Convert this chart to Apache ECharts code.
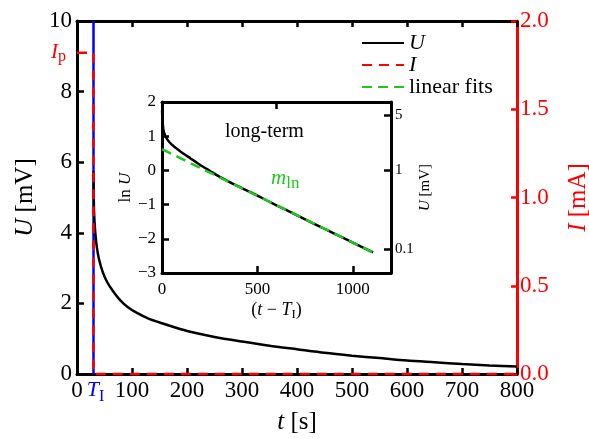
<!DOCTYPE html>
<html><head><meta charset="utf-8">
<script src="https://cdn.jsdelivr.net/npm/echarts@6/dist/echarts.min.js"></script>
<style>html,body{margin:0;padding:0;background:#fff}#c{width:589px;height:438px}</style>
</head><body><div id="c"></div>
<script>
// ---- data ----
const T_I = 30;            // pulse end time [s]
const I_p = 1.82;          // pulse current [mA]
const tMain = [30, 31, 33, 36, 40, 47, 55, 65, 78, 92, 109, 130, 156, 180, 202, 250, 300, 350, 400, 450, 500, 550, 600, 650, 700, 750, 800];
const uMain = [5.75, 4.6, 4.05, 3.6, 3.25, 2.88, 2.6, 2.36, 2.1, 1.9, 1.73, 1.57, 1.43, 1.31, 1.21, 1.05, 0.92, 0.8, 0.70, 0.6, 0.52, 0.45, 0.38, 0.33, 0.28, 0.24, 0.21];
const tCurrent = [0, T_I, T_I, 800];
const iCurrent = [I_p, I_p, 0, 0];
const tInset = [0, 4, 10, 25, 50, 100, 150, 200, 250, 300, 400, 500, 600, 700, 800, 900, 1000, 1106];
const lnUInset = [1.75, 1.35, 1.12, 0.93, 0.76, 0.54, 0.35, 0.16, -0.01, -0.18, -0.47, -0.74, -1.02, -1.29, -1.57, -1.84, -2.11, -2.40];
const tFit = [0, 1106];
const lnUFit = [0.62, -2.40];
const xTicksMain = [0, 100, 200, 300, 400, 500, 600, 700, 800];
const uTicks = [0, 2, 4, 6, 8, 10];
const insetXTicks = [0, 500, 1000];
const insetRightU = [0.1, 1, 5];

const F = '"Liberation Serif", "DejaVu Serif", serif';
const RED = '#ff0000', BLUE = '#0000ff', GREEN = '#1ec81e';
const zip = (a, b) => a.map((v, i) => [v, b[i]]);
const minus = v => String(v).replace('-', '\u2212');
const line = (c) => ({onZero: false, lineStyle: {color: c, width: 3}});

const chart = echarts.init(document.getElementById('c'), null, {renderer: 'canvas'});
chart.setOption({
  animation: false,
  backgroundColor: '#fff',
  textStyle: {fontFamily: F},
  grid: [
    {left: 77, right: 72, top: 21, bottom: 64, outerBoundsMode: 'none', containLabel: false},
    {left: 162, top: 102, width: 229, height: 171, show: true, backgroundColor: '#fff', borderWidth: 0, outerBoundsMode: 'none', containLabel: false}
  ],
  legend: {
    orient: 'vertical', left: 361, top: 32, itemWidth: 42, itemHeight: 12, itemGap: 0, padding: 0,
    data: ['U', 'I', 'linear fits'],
    itemStyle: {opacity: 0},
    textStyle: {fontFamily: F, fontSize: 22, lineHeight: 16, color: '#000',
      rich: {i: {fontFamily: F, fontStyle: 'italic', fontSize: 22, lineHeight: 16}}},
    formatter: n => n === 'linear fits' ? n : '{i|' + n + '}'
  },
  xAxis: [
    {gridIndex: 0, type: 'value', min: 0, max: 800, interval: 100, position: 'bottom',
     name: '{i|t} [s]', nameLocation: 'middle', nameGap: 30,
     nameTextStyle: {fontFamily: F, fontSize: 25, color: '#000', rich: {i: {fontFamily: F, fontStyle: 'italic', fontSize: 25}}},
     axisLine: line('#000'),
     axisTick: {inside: true, length: 6, lineStyle: {width: 2.5, color: '#000'}},
     axisLabel: {customValues: xTicksMain.concat([T_I]), margin: 5, fontFamily: F, fontSize: 23, color: '#000',
       formatter: v => v === T_I ? '{t|T}{s|I}' : String(v),
       rich: {t: {fontFamily: F, fontStyle: 'italic', fontSize: 22, color: BLUE, padding: [0, 0, 4, 4]},
              s: {fontFamily: F, fontSize: 16, color: BLUE, padding: [10, 0, 0, 0]}}},
     splitLine: {show: false}},
    {gridIndex: 0, type: 'value', min: 0, max: 800, interval: 100, position: 'top',
     axisLine: line('#000'),
     axisTick: {inside: true, length: 6, lineStyle: {width: 2.5, color: '#000'}},
     axisLabel: {show: false}, splitLine: {show: false}},
    {gridIndex: 1, type: 'value', min: 0, max: 1200, position: 'bottom',
     name: '({i|t} \u2212 {i|T}{s|I})', nameLocation: 'middle', nameGap: 26,
     nameTextStyle: {fontFamily: F, fontSize: 18, color: '#000',
       rich: {i: {fontFamily: F, fontStyle: 'italic', fontSize: 18}, s: {fontFamily: F, fontSize: 13, padding: [9, 0, 0, 0]}}},
     axisLine: line('#000'),
     axisTick: {inside: true, length: 7, customValues: [500, 1000], lineStyle: {width: 2.5, color: '#000'}},
     axisLabel: {customValues: insetXTicks, margin: 8, fontFamily: F, fontSize: 17, color: '#000', formatter: v => String(v)},
     splitLine: {show: false}},
    {gridIndex: 1, type: 'value', min: 0, max: 1200, position: 'top',
     axisLine: line('#000'),
     axisTick: {inside: true, length: 7, customValues: [600], lineStyle: {width: 2.5, color: '#000'}},
     axisLabel: {show: false}, splitLine: {show: false}}
  ],
  yAxis: [
    {gridIndex: 0, type: 'value', min: 0, max: 10, interval: 2, position: 'left',
     name: '{i|U} [mV]', nameLocation: 'middle', nameGap: 38, nameRotate: 90,
     nameTextStyle: {fontFamily: F, fontSize: 25, color: '#000', rich: {i: {fontFamily: F, fontStyle: 'italic', fontSize: 25}}},
     axisLine: line('#000'),
     axisTick: {inside: true, length: 7, customValues: [2, 4, 6, 8], lineStyle: {width: 2.5, color: '#000'}},
     axisLabel: {customValues: uTicks.concat([I_p * 5]), margin: 5, fontFamily: F, fontSize: 23, color: '#000',
       formatter: v => Math.abs(v - I_p * 5) < 1e-6 ? '{ip|I}{ps|p}' : String(v),
       rich: {ip: {fontFamily: F, fontStyle: 'italic', fontSize: 21, color: RED},
              ps: {fontFamily: F, fontSize: 16, color: RED, padding: [9, 6, 0, 0]}}},
     splitLine: {show: false}},
    {gridIndex: 0, type: 'value', min: 0, max: 2, interval: 0.5, position: 'right',
     name: '{i|I} [mA]', nameLocation: 'middle', nameGap: 49, nameRotate: 90,
     nameTextStyle: {fontFamily: F, fontSize: 25, color: RED, rich: {i: {fontFamily: F, fontStyle: 'italic', fontSize: 25, color: RED}}},
     axisLine: line(RED),
     axisTick: {inside: true, length: 6, lineStyle: {width: 2.5, color: RED}},
     axisLabel: {margin: 3, fontFamily: F, fontSize: 23, color: RED, formatter: v => v.toFixed(1)},
     splitLine: {show: false}},
    {gridIndex: 1, type: 'value', min: -3, max: 2, interval: 1, position: 'left',
     name: 'ln {i|U}', nameLocation: 'middle', nameGap: 28, nameRotate: 90,
     nameTextStyle: {fontFamily: F, fontSize: 17, color: '#000', rich: {i: {fontFamily: F, fontStyle: 'italic', fontSize: 17}}},
     axisLine: line('#000'),
     axisTick: {inside: true, length: 7, customValues: [-2, -1, 0, 1], lineStyle: {width: 2.5, color: '#000'}},
     axisLabel: {margin: 6, fontFamily: F, fontSize: 17, color: '#000', formatter: v => minus(v)},
     splitLine: {show: false}},
    {gridIndex: 1, type: 'value', min: -3, max: 2, position: 'right',
     name: '{i|U} [mV]', nameLocation: 'middle', nameGap: 20, nameRotate: 90,
     nameTextStyle: {fontFamily: F, fontSize: 15, color: '#000', rich: {i: {fontFamily: F, fontStyle: 'italic', fontSize: 15}}},
     axisLine: line('#000'),
     axisTick: {inside: true, length: 7, customValues: insetRightU.map(Math.log), lineStyle: {width: 2.5, color: '#000'}},
     axisLabel: {customValues: insetRightU.map(Math.log), margin: 4, fontFamily: F, fontSize: 15, color: '#000',
       formatter: v => String(Math.round(Math.exp(v) * 10) / 10)},
     splitLine: {show: false}}
  ],
  graphic: [
    {type: 'text', left: 225, top: 122, z: 10, style: {text: 'long-term', fontFamily: F, fontSize: 20, fill: '#000'}},
    {type: 'text', left: 271, top: 168, z: 10, style: {text: '{m|m}{s|ln}', fontFamily: F, fill: GREEN,
      rich: {m: {fontFamily: F, fontStyle: 'italic', fontSize: 21, fill: GREEN, color: GREEN},
             s: {fontFamily: F, fontSize: 17, fill: GREEN, color: GREEN, padding: [10, 0, 0, 0]}}}}
  ],
  series: [
    {name: 'TI', type: 'line', xAxisIndex: 0, yAxisIndex: 0, data: [[T_I, 0], [T_I, 10]], symbol: 'none', clip: false,
     lineStyle: {color: BLUE, width: 2.5}, z: 2},
    {name: 'U', type: 'line', xAxisIndex: 0, yAxisIndex: 0, data: zip(tMain, uMain), symbol: 'none', smooth: 0.25,
     itemStyle: {color: '#000'}, lineStyle: {color: '#000', width: 2.5}, z: 3},
    {name: 'I', type: 'line', xAxisIndex: 0, yAxisIndex: 1, data: zip(tCurrent, iCurrent), symbol: 'none', clip: false,
     itemStyle: {color: RED}, lineStyle: {color: RED, width: 2.5, type: [10, 7]}, z: 4},
    {name: 'lnU', type: 'line', xAxisIndex: 2, yAxisIndex: 2, data: zip(tInset, lnUInset), symbol: 'none', smooth: 0.25,
     lineStyle: {color: '#000', width: 2.5}, z: 5},
    {name: 'linear fits', type: 'line', xAxisIndex: 2, yAxisIndex: 2, data: zip(tFit, lnUFit), symbol: 'none',
     itemStyle: {color: GREEN}, lineStyle: {color: GREEN, width: 2.5, type: [10, 6]}, z: 6}
  ]
});
</script></body></html>
